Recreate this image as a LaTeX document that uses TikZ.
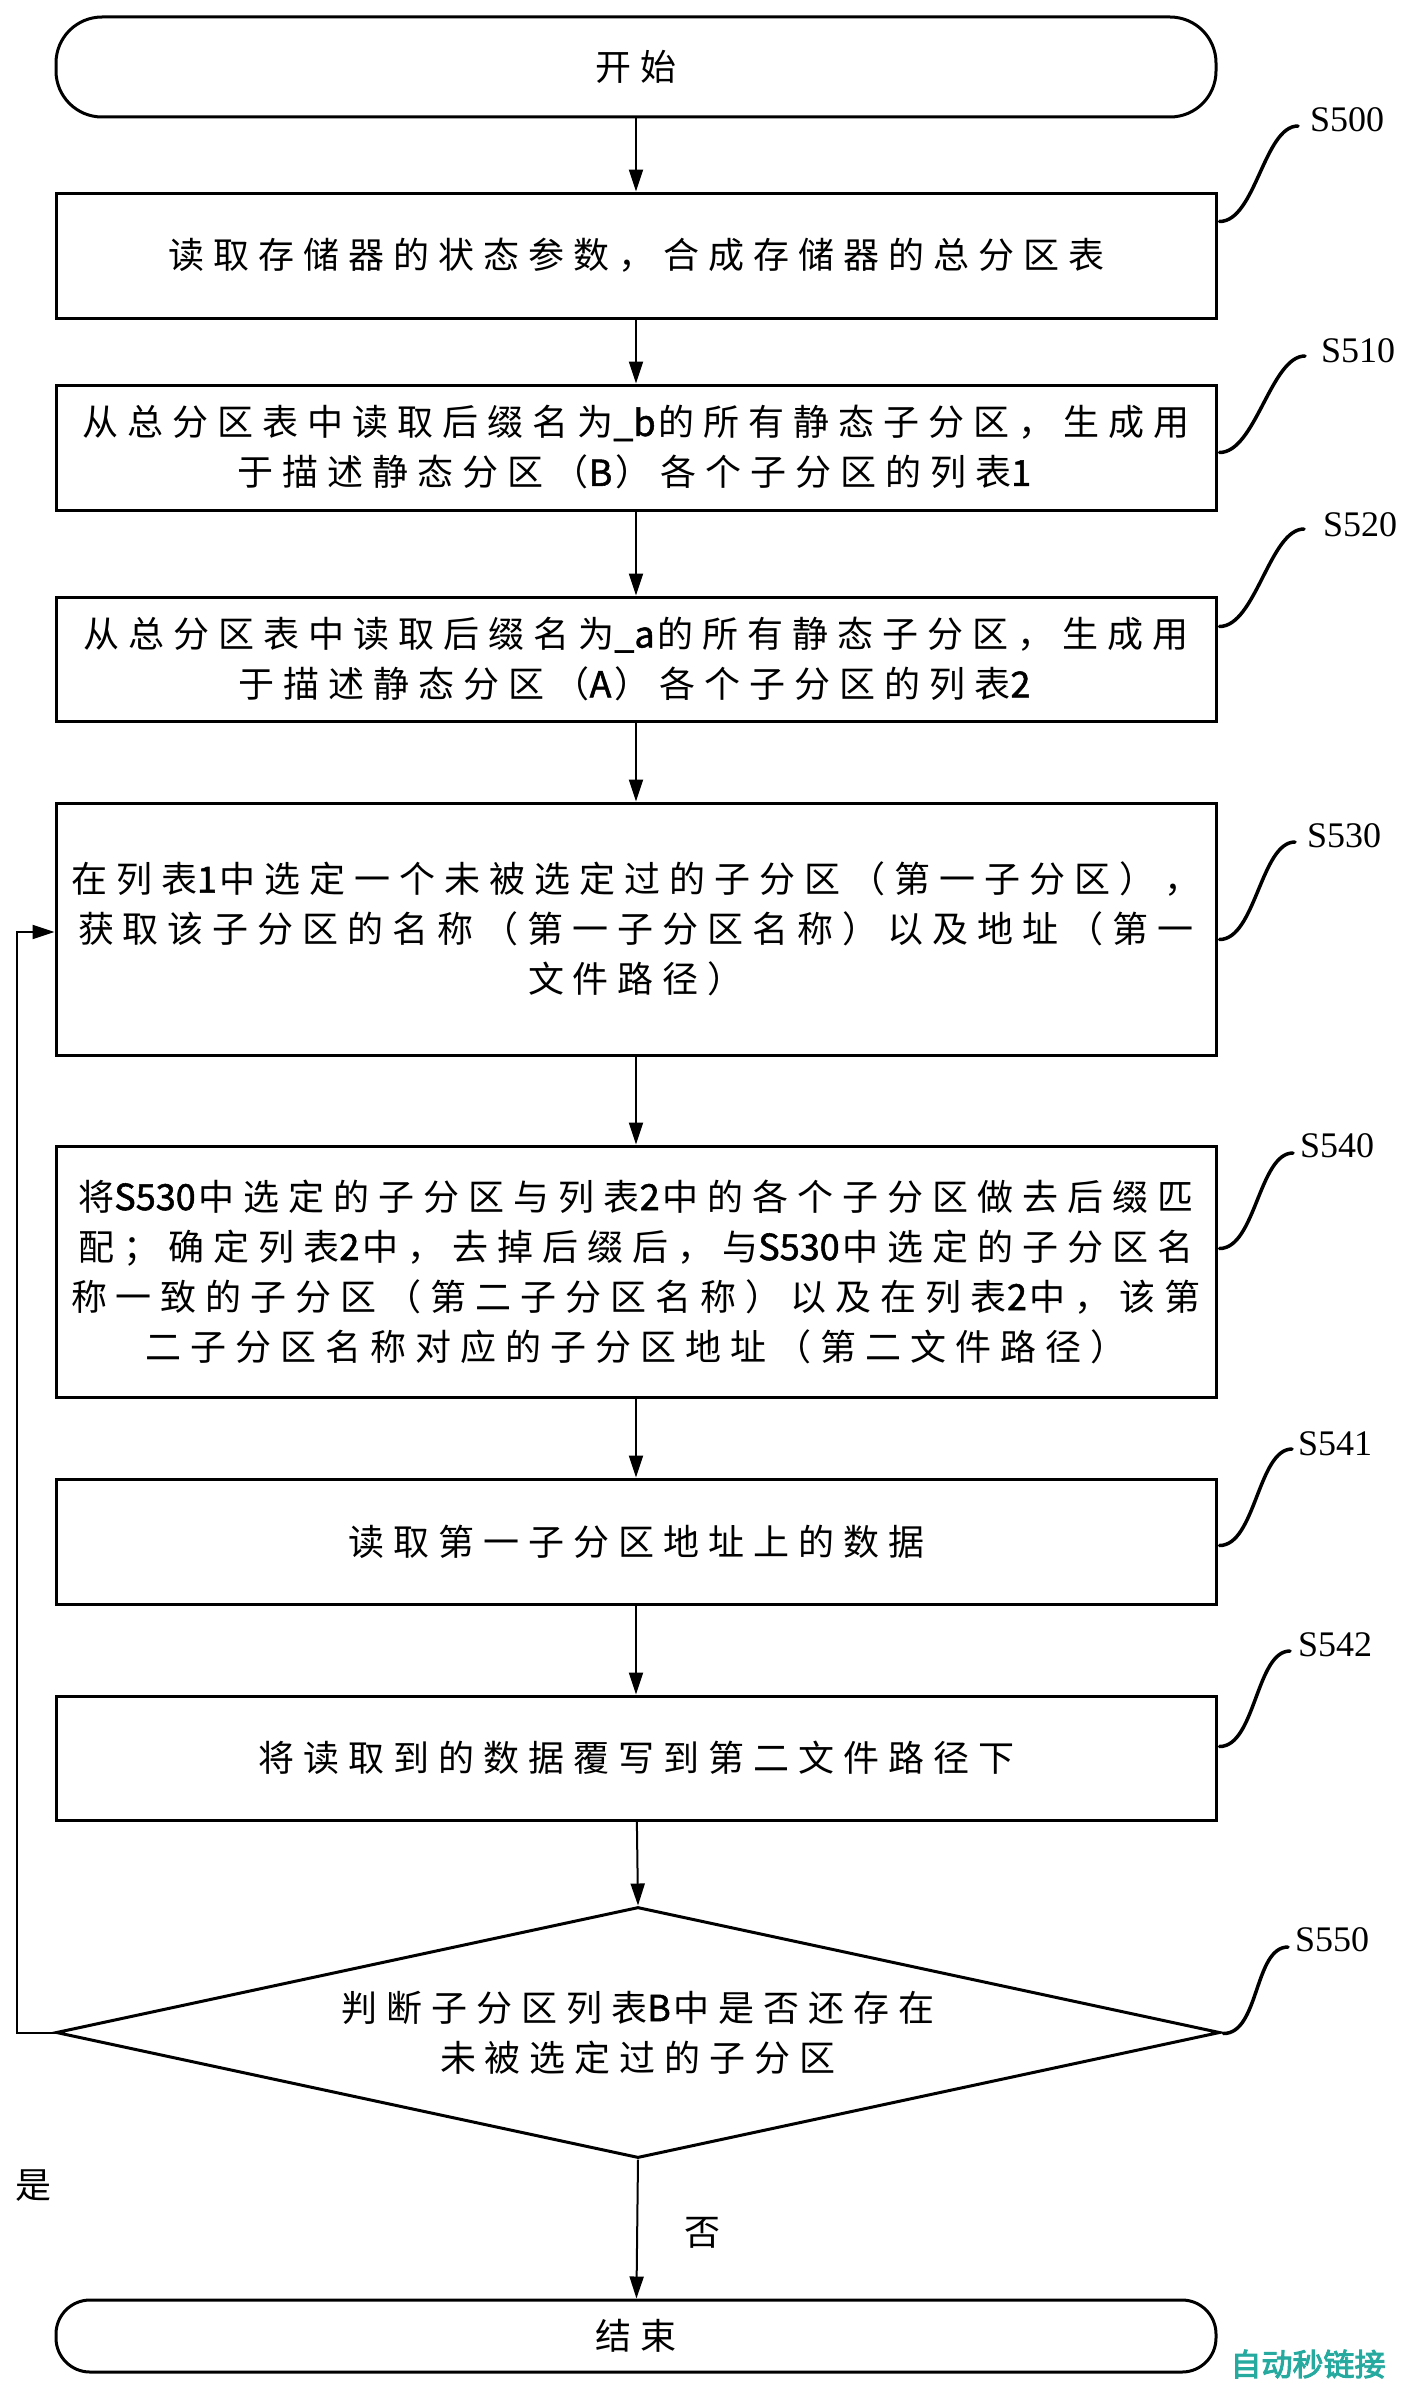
\documentclass[tikz,border=0pt]{standalone}
\usepackage{fontspec}
\setmainfont{Liberation Serif}
\newfontfamily\cjk[LetterSpace=25]{Noto Sans CJK SC}
\newfontfamily\latfont[FakeBold=1.5]{Noto Sans CJK SC}
\newfontfamily\wmfont[FakeBold=3]{Noto Sans CJK SC}
\newcommand\lt[1]{{\latfont #1}\kern3pt}
\usetikzlibrary{arrows.meta,shapes.geometric,calc}
\definecolor{wmteal}{RGB}{38,170,160}
\begin{document}
\begin{tikzpicture}[x=1pt,y=-1pt,
  box/.style={draw, line width=3pt, minimum width=1160pt, inner sep=0pt, align=center,
              font=\cjk\fontsize{36}{50}\selectfont},
  term/.style={box, rounded corners=46pt},
  flow/.style={line width=2pt, -{Triangle[length=22pt,width=14pt]}},
  curve/.style={line width=3.5pt, line cap=round},
  lbl/.style={anchor=west, inner sep=0pt, font=\fontsize{36}{40}\selectfont},
  yn/.style={inner sep=0pt, font=\cjk\fontsize{36}{40}\selectfont},
  ]
\useasboundingbox (0,0) rectangle (1411,2387);

% main nodes
\node[term, minimum height=100pt] (start) at (636,67) {开始};
\node[box, minimum height=125pt] (s500) at (636,255.5) {读取存储器的状态参数，合成存储器的总分区表};
\node[box, minimum height=125pt] (s510) at (636,447.5) {从总分区表中读取后缀名为\lt{\_b}的所有静态子分区，生成用\\于描述静态分区（\lt{B}）各个子分区的列表\lt{1}};
\node[box, minimum height=124pt] (s520) at (636,659) {从总分区表中读取后缀名为\lt{\_a}的所有静态子分区，生成用\\于描述静态分区（\lt{A}）各个子分区的列表\lt{2}};
\node[box, minimum height=252pt] (s530) at (636,929) {在列表\lt{1}中选定一个未被选定过的子分区（第一子分区），\\获取该子分区的名称（第一子分区名称）以及地址（第一\\文件路径）};
\node[box, minimum height=251pt] (s540) at (636,1271.5) {将\lt{S530}中选定的子分区与列表\lt{2}中的各个子分区做去后缀匹\\配；确定列表\lt{2}中，去掉后缀后，与\lt{S530}中选定的子分区名\\称一致的子分区（第二子分区名称）以及在列表\lt{2}中，该第\\二子分区名称对应的子分区地址（第二文件路径）};
\node[box, minimum height=125pt] (s541) at (636,1541.5) {读取第一子分区地址上的数据};
\node[box, minimum height=124pt] (s542) at (636,1758) {将读取到的数据覆写到第二文件路径下};
\node[diamond, draw, line width=3pt, inner sep=0pt, aspect=4.6, minimum width=1164pt, minimum height=251pt,
      align=center, font=\cjk\fontsize{36}{50}\selectfont] (s550) at (638,2032.5) {判断子分区列表\lt{B}中是否还存在\\未被选定过的子分区};
\node[term, rounded corners=34pt, minimum height=72pt] (end) at (636,2336) {结束};

% flow arrows
\draw[flow] (start) -- (s500);
\draw[flow] (s500) -- (s510);
\draw[flow] (s510) -- (s520);
\draw[flow] (s520) -- (s530);
\draw[flow] (s530) -- (s540);
\draw[flow] (s540) -- (s541);
\draw[flow] (s541) -- (s542);
\draw[flow] (s542) -- (s550.north);
\draw[flow] (s550.south) -- (end);
\coordinate (back) at (17,2032.5);
\coordinate (backtop) at (17,932);
\draw[flow] (s550.west) -- (back) -- (backtop) -- (s530.west |- backtop);

\node[yn] (yes) at (34,2186) {是};
\node[yn] (no) at (702,2233) {否};

% step labels
\node[lbl] (l500) at (1310,120) {S500};
\node[lbl] (l510) at (1321,351) {S510};
\node[lbl] (l520) at (1323,525) {S520};
\node[lbl] (l530) at (1307,836) {S530};
\node[lbl] (l540) at (1300,1146) {S540};
\node[lbl] (l541) at (1298,1444) {S541};
\node[lbl] (l542) at (1298,1645) {S542};
\node[lbl] (l550) at (1295,1940) {S550};

\coordinate (c500) at ($(s500.north east)+(2,30)$);
\coordinate (c510) at ($(s510.north east)+(2,69)$);
\coordinate (c520) at ($(s520.north east)+(2,31)$);
\coordinate (c530) at ($(s530.north east)+(2,138)$);
\coordinate (c540) at ($(s540.north east)+(2,104)$);
\coordinate (c541) at ($(s541.north east)+(2,68)$);
\coordinate (c542) at ($(s542.north east)+(2,52)$);
\coordinate (c550) at ($(s550.east)+(2,1)$);

\coordinate (e500) at (1298,126);
\coordinate (e510) at (1305,356);
\coordinate (e520) at (1304,529);
\coordinate (e530) at (1295,842);
\coordinate (e540) at (1293,1153);
\coordinate (e541) at (1292,1449);
\coordinate (e542) at (1290,1651);
\coordinate (e550) at (1288,1947);

\foreach \k in {500,510,520,530,540,541,542,550}{
  \draw[curve] (c\k) .. controls +(36,0) and +(-34,0) .. (e\k);
}

% watermark
\node[inner sep=0pt, text=wmteal, font=\wmfont\fontsize{31}{32}\selectfont] (wm) at (1308,2364) {自动秒链接};
\end{tikzpicture}
\end{document}
